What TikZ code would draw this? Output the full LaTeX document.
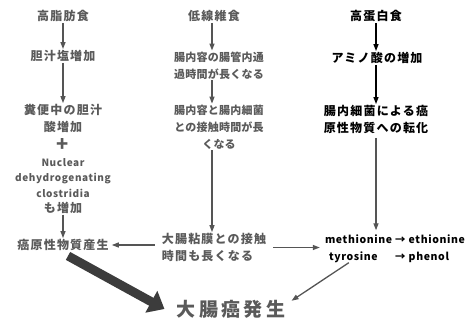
\documentclass[tikz,border=0pt]{standalone}
\usepackage{fontspec}
\setmainfont{Noto Sans CJK JP}
\newfontfamily\jpA[LetterSpace=10]{Noto Sans CJK JP}
\newfontfamily\jpB[LetterSpace=2]{Noto Sans CJK JP}
\newfontfamily\jpBig[LetterSpace=18]{Noto Sans CJK JP}
\newfontfamily\lat[LetterSpace=6]{Noto Sans CJK JP}
\usetikzlibrary{arrows.meta}
\definecolor{tg}{HTML}{5A5A5A}
\definecolor{ag}{HTML}{555555}
\definecolor{thk}{HTML}{3C3C3C}
\begin{document}
\begin{tikzpicture}[x=1pt,y=-1pt,
  gt/.style={text=tg, font=\jpA\bfseries\fontsize{12}{17}\selectfont, align=center, inner sep=1pt},
  gn/.style={gt, font=\jpB\bfseries\fontsize{11}{17}\selectfont},
  bt/.style={gt, text=black},
  ga/.style={draw=ag, line width=1.3pt, -{Triangle[length=7pt,width=5pt]}},
  ba/.style={ga, draw=black},
]
\useasboundingbox (0,0) rectangle (471,321);
\fill[white] (0,0) rectangle (471,321);
\coordinate (lx) at (63,0);
\coordinate (mx) at (212,0);
\coordinate (rx) at (376,0);
% left column
\node[gt] (L1) at (63,16) {高脂肪食};
\node[gt] (L2) at (63,56) {胆汁塩増加};
\node[gt] (L3) at (63,118.5) {糞便中の胆汁\\酸増加};
\node[text=tg, font=\bfseries\fontsize{20}{20}\selectfont, inner sep=0pt] (P) at (63,145) {+};
\node[gt, font=\lat\bfseries\fontsize{10}{15.3}\selectfont] (L4) at (63,186) {Nuclear\\dehydrogenating\\clostridia\\{\jpA\fontsize{12}{15.3}\selectfont も増加}};
\node[gt] (L5) at (63,245) {癌原性物質産生};
% middle column
\node[gt] (M1) at (214,16) {低線維食};
\node[gn] (M2) at (219,65.5) {腸内容の腸管内通\\過時間が長くなる};
\node[gn] (M3) at (219,127) {腸内容と腸内細菌\\との接触時間が長\\くなる};
\node[gt, align=left] (M4) at (214,247.5) {大腸粘膜との接触\\時間も長くなる};
% right column
\node[bt] (R1) at (376,16) {高蛋白食};
\node[bt] (R2) at (377,58) {アミノ酸の増加};
\node[bt] (R3) at (376,119.5) {腸内細菌による癌\\原性物質への転化};
\node[font=\lat\bfseries\fontsize{10.5}{17}\selectfont, inner sep=1pt] (R4) at (395,248.5)
  {\begin{tabular}{@{}l@{\hspace{3pt}}c@{\hspace{3pt}}l@{}}methionine & → & ethionine\\ \hspace{4pt}tyrosine & → & phenol\end{tabular}};
% result
\node[text=tg, font=\jpBig\bfseries\fontsize{19}{19}\selectfont, inner sep=1pt] (B) at (231,309) {大腸癌発生};
% arrows left
\draw[ga] (L1.south -| lx) -- (L2.north -| lx);
\draw[ga] (L2.south -| lx) -- (L3.north -| lx);
\draw[ga] (L4.south -| lx) -- (L5.north -| lx);
% arrows middle
\draw[ga] (M1.south -| mx) -- (M2.north -| mx);
\draw[ga] (M2.south -| mx) -- (M3.north -| mx);
\draw[ga] (M3.south -| mx) -- (M4.north -| mx);
% arrows right
\draw[ba] (R1.south -| rx) -- (R2.north -| rx);
\draw[ba] (R2.south -| rx) -- (R3.north -| rx);
\draw[ga, shorten <=3pt] (R3.south -| rx) -- (R4.north -| rx);
% horizontal
\draw[ga, shorten <=6pt, shorten >=2pt] (M4.west |- L5.east) -- (L5.east);
\draw[ga, shorten <=6pt, shorten >=4pt] (M4.east) -- (M4.east -| R4.west);
\coordinate (ty) at ([xshift=25pt,yshift=4pt]R4.south west);
\draw[ga] (ty) -- ([xshift=5pt,yshift=-2pt]B.north east);
% thick arrow
\draw[thk, line width=9pt, -{Triangle[length=15pt,width=24pt]}] ([xshift=5pt,yshift=-4pt]L5.south) -- ([xshift=-11pt]B.west);
\end{tikzpicture}
\end{document}
